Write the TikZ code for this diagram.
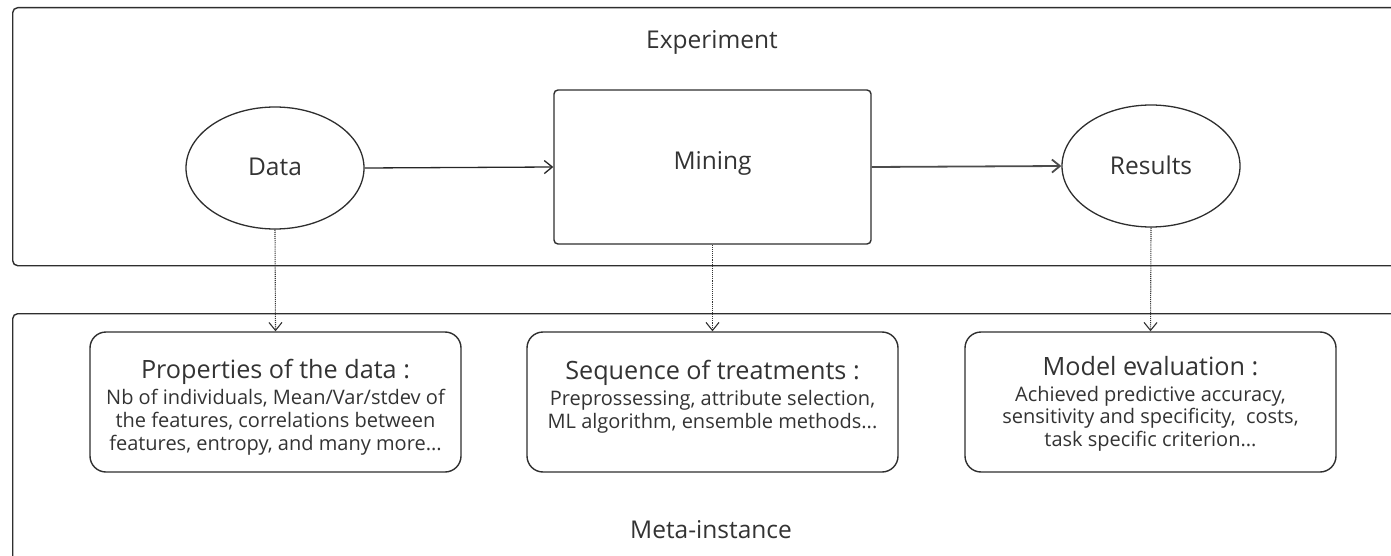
\documentclass[tikz,border=0pt]{standalone}
\usepackage{fontspec}
\setmainfont{Open Sans}
\usetikzlibrary{arrows.meta,shapes.geometric}
\definecolor{ink}{HTML}{333333}
\definecolor{edge}{HTML}{2E2E2E}
\tikzset{
  frame/.style={draw=edge, line width=1.4pt, rounded corners=5pt, anchor=north west, inner sep=0pt},
  lbl/.style={text=ink, font=\fontsize{24.5}{28}\selectfont, inner sep=0pt},
  blob/.style={ellipse, draw=edge, line width=1.3pt, minimum width=178pt, minimum height=122pt, inner sep=0pt},
  stepbox/.style={draw=edge, line width=1.4pt, rounded corners=4pt, minimum width=317pt, minimum height=154pt, inner sep=0pt},
  infobox/.style={draw=edge, line width=1.4pt, rounded corners=16pt, minimum width=371pt, minimum height=140pt, inner sep=0pt},
  infotext/.style={text=ink, align=center, anchor=north, inner sep=0pt,
    font=\fontsize{20}{22.8}\selectfont},
  flow/.style={draw=black!85, line width=1.3pt, -{Straight Barb[length=8pt,width=13pt]}},
  link/.style={draw=black!80, line width=1.1pt, densely dotted, -{Straight Barb[length=8pt,width=13pt]}},
}
\newcommand{\boxhead}[1]{{\fontsize{25.2}{28}\selectfont #1}\\[3pt]}
\begin{document}
\begin{tikzpicture}[x=1pt, y=-1pt]
  \useasboundingbox (0,0) rectangle (1391,556);
  \clip (0,0) rectangle (1391,556);

  % the two enclosing panels, both running off the right edge
  \node[frame, minimum width=1420pt, minimum height=258pt] (exp) at (12,7) {};
  \node[frame, minimum width=1420pt, minimum height=300pt] (meta) at (12,313) {};
  \node[lbl] (explbl) at (712,42) {Experiment};
  \node[lbl] (metalbl) at (711,530) {Meta-instance};

  % experiment pipeline
  \node[blob] (data) at (275,168) {};
  \node[lbl] (datalbl) at (275,167) {Data};
  \node[stepbox] (mining) at (712.5,167) {};
  \node[lbl] (mininglbl) at (712.5,163) {Mining};
  \node[blob] (results) at (1151,166) {};
  \node[lbl] (resultslbl) at (1151,165) {Results};

  \draw[flow] (data.east) -- (mining.west);
  \draw[flow, draw=black!70, line width=1.8pt] (mining.east) -- (results.west);

  % descriptors of the meta-instance
  \node[infobox] (props) at (275.5,402) {};
  \node[infotext] (propstxt) at (275.5,359.5) {\boxhead{Properties of the data :}Nb of individuals, Mean/Var/stdev of\\the features, correlations between\\features, entropy, and many more...};
  \node[infobox] (seq) at (712.5,402) {};
  \node[infotext] (seqtxt) at (712.5,360) {\boxhead{Sequence of treatments :}Preprossessing, attribute selection,\\ML algorithm, ensemble methods...};
  \node[infobox] (model) at (1150.5,402) {};
  \node[infotext] (modeltxt) at (1150.5,356) {\boxhead{Model evaluation :}Achieved predictive accuracy,\\sensitivity and specificity,~ costs,\\task specific criterion...};

  \draw[link] (data.south) -- (props.north);
  \draw[link] (mining.south) -- (seq.north);
  \draw[link] (results.south) -- (model.north);
\end{tikzpicture}
\end{document}
